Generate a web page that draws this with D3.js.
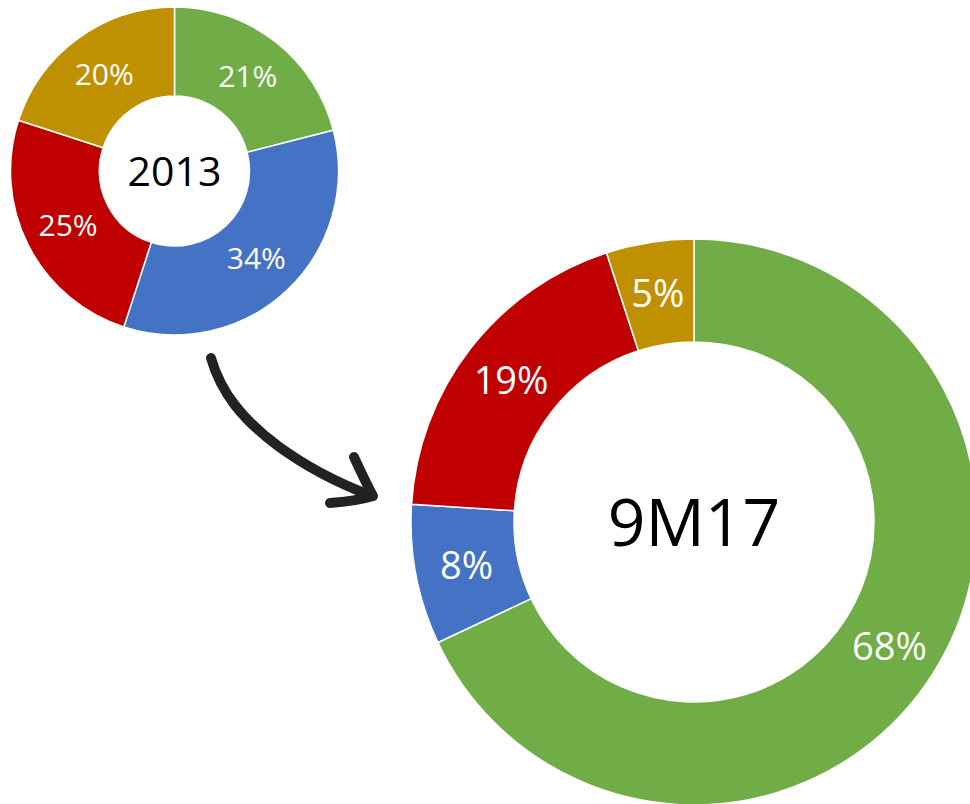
<!DOCTYPE html>
<html>
<head>
<meta charset="utf-8">
<script src="https://cdn.jsdelivr.net/npm/d3@7/dist/d3.min.js"></script>
<style>
  body { margin: 0; background: #fff; }
  text { font-family: "Open Sans", sans-serif; }
</style>
</head>
<body>
<script>
// data
var categories = ["green", "blue", "red", "gold"];
var colors = ["#70AD47", "#4472C4", "#C00000", "#BF9000"];
var values2013 = [21, 34, 25, 20];
var values9M17 = [68, 8, 19, 5];
var centerLabels = ["2013", "9M17"];

var w = 970, h = 804;

var svg = d3.select("body").append("svg")
    .attr("width", w)
    .attr("height", h);

var color = d3.scaleOrdinal().domain(categories).range(colors);

var pie = d3.pie().sort(null).value(function(d) { return d.value; });

function donut(values, cx, cy, rOuter, rInner, labelSize, centerText, centerSize) {
  var data = values.map(function(v, i) { return { name: categories[i], value: v }; });
  var arc = d3.arc().innerRadius(rInner).outerRadius(rOuter);
  var g = svg.append("g").attr("transform", "translate(" + cx + "," + cy + ")");

  g.selectAll("path")
    .data(pie(data))
    .enter().append("path")
      .attr("d", arc)
      .attr("fill", function(d) { return color(d.data.name); })
      .attr("stroke", "#fff")
      .attr("stroke-width", 1.5);

  g.selectAll("text.lbl")
    .data(pie(data))
    .enter().append("text")
      .attr("class", "lbl")
      .attr("transform", function(d) { return "translate(" + arc.centroid(d) + ")"; })
      .attr("text-anchor", "middle")
      .attr("dy", "0.36em")
      .attr("fill", "#fff")
      .attr("font-size", labelSize)
      .text(function(d) { return d.data.value + "%"; });

  g.append("text")
    .attr("text-anchor", "middle")
    .attr("dy", "0.36em")
    .attr("fill", "#000")
    .attr("font-size", centerSize)
    .text(centerText);
}

donut(values2013, 174.5, 171, 164, 75, 30, centerLabels[0], 41);
donut(values9M17, 694, 522, 283, 180, 38, centerLabels[1], 66);

// hand-drawn arrow
var arrow = svg.append("g")
    .attr("fill", "none")
    .attr("stroke", "#222")
    .attr("stroke-linecap", "round")
    .attr("stroke-linejoin", "round");

arrow.append("path")
    .attr("d", "M211,358 C221,393 243,420 278,446 C308,468 340,484 372,496")
    .attr("stroke-width", 10);
arrow.append("path")
    .attr("d", "M354,457 C360,470 366,483 373,496 C360,500 345,502 330,503")
    .attr("stroke-width", 10);
</script>
</body>
</html>
